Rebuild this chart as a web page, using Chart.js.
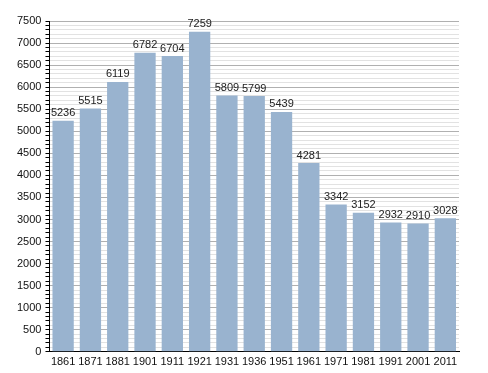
<!DOCTYPE html>
<html>
<head>
<meta charset="utf-8">
<script src="https://cdn.jsdelivr.net/npm/chart.js@4/dist/chart.umd.min.js"></script>
<style>
  html, body { margin: 0; padding: 0; background: #fff; }
  canvas { display: block; }
</style>
</head>
<body>
<canvas id="chart" width="488" height="373"></canvas>
<script>
const years = ['1861', '1871', '1881', '1901', '1911', '1921', '1931', '1936', '1951', '1961', '1971', '1981', '1991', '2001', '2011'];
const population = [5236, 5515, 6119, 6782, 6704, 7259, 5809, 5799, 5439, 4281, 3342, 3152, 2932, 2910, 3028];
const yMax = 7500;
const majorStep = 500;
const minorStep = 100;

// value labels above each bar
const barLabels = {
  id: 'barLabels',
  afterDatasetsDraw(chart) {
    const ctx = chart.ctx;
    const meta = chart.getDatasetMeta(0);
    ctx.save();
    ctx.font = '11px "Liberation Sans", Arial, sans-serif';
    ctx.fillStyle = '#222';
    ctx.textAlign = 'center';
    ctx.textBaseline = 'bottom';
    meta.data.forEach((bar, i) => {
      ctx.fillText(String(population[i]), bar.x, bar.y - 2);
    });
    ctx.restore();
  }
};

new Chart(document.getElementById('chart'), {
  type: 'bar',
  data: {
    labels: years,
    datasets: [{
      data: population,
      backgroundColor: '#99b3cf',
      borderWidth: 0,
      barPercentage: 0.78,
      categoryPercentage: 1
    }]
  },
  options: {
    responsive: false,
    animation: false,
    layout: { padding: { top: 21, right: 29, left: 13, bottom: 0 } },
    plugins: { legend: { display: false }, tooltip: { enabled: false } },
    scales: {
      x: {
        grid: { display: false, drawTicks: false },
        border: { color: '#000', width: 1 },
        ticks: {
          color: '#111',
          padding: 4,
          maxRotation: 0,
          autoSkip: false,
          font: { family: '"Liberation Sans", Arial, sans-serif', size: 11 }
        }
      },
      y: {
        min: 0,
        max: yMax,
        afterBuildTicks: scale => {
          const ticks = [];
          for (let v = 0; v <= yMax; v += minorStep) ticks.push({ value: v });
          scale.ticks = ticks;
        },
        border: { color: '#000', width: 1 },
        grid: {
          color: c => (c.tick && c.tick.value % majorStep === 0) ? '#b0b0b0' : '#e2e2e2',
          tickColor: '#000',
          tickLength: 4,
          drawTicks: true
        },
        ticks: {
          autoSkip: false,
          color: '#111',
          padding: 4,
          font: { family: '"Liberation Sans", Arial, sans-serif', size: 11 },
          callback: v => (v % majorStep === 0 ? String(v) : '')
        }
      }
    }
  },
  plugins: [barLabels]
});
</script>
</body>
</html>
